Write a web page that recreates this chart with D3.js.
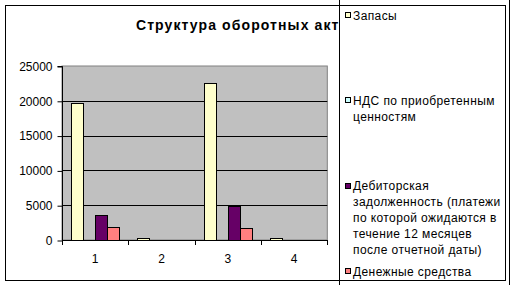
<!DOCTYPE html>
<html>
<head>
<meta charset="utf-8">
<script src="https://cdn.jsdelivr.net/npm/d3@7"></script>
<style>
  html, body { margin: 0; padding: 0; background: #fff; }
  svg { display: block; }
  text { font-family: "Liberation Sans", Arial, sans-serif; }
</style>
</head>
<body>
<svg id="chart" width="516" height="285"></svg>
<script>
// ---- data ----
const categories = ["1", "2", "3", "4"];
const seriesNames = [
  "Запасы",
  "НДС по приобретенным ценностям",
  "Дебиторская задолженность (платежи по которой ожидаются в течение 12 месяцев после отчетной даты)",
  "Денежные средства"
];
const legendLines = [
  ["Запасы"],
  ["НДС по приобретенным", "ценностям"],
  ["Дебиторская", "задолженность (платежи", "по которой ожидаются в", "течение 12 месяцев", "после отчетной даты)"],
  ["Денежные средства"]
];
const zapasy   = [19700, 250, 22500, 250];
const nds      = [0, 0, 0, 0];
const debitor  = [3600, 0, 4950, 0];
const dengi    = [1800, 0, 1700, 0];
const seriesValues = [zapasy, nds, debitor, dengi];
const seriesColors = ["#FFFFCC", "#CCFFFF", "#660066", "#FF8080"];
const yTicks = [0, 5000, 10000, 15000, 20000, 25000];
const titleText = "Структура оборотных активов";

// ---- layout ----
const svg = d3.select("#chart");
const plot = { left: 62, right: 327.3, top: 66, bottom: 240 };
const legend = { left: 339, right: 509, top: -5, bottom: 290 };

const x0 = d3.scaleBand().domain(categories).range([plot.left, plot.right]).paddingInner(0).paddingOuter(0);
const x1 = d3.scaleBand().domain(d3.range(seriesNames.length)).range([0, x0.bandwidth()]).paddingInner(0).paddingOuter(0.75);
const y = d3.scaleLinear().domain([0, 25000]).range([plot.bottom, plot.top]);

// plot area
svg.append("rect")
  .attr("x", plot.left).attr("y", plot.top)
  .attr("width", plot.right - plot.left).attr("height", plot.bottom - plot.top)
  .attr("fill", "#C0C0C0").attr("stroke", "#808080").attr("stroke-width", 1);

// gridlines
svg.append("g").selectAll("line")
  .data(yTicks.filter(t => t > 0 && t < 25000))
  .join("line")
  .attr("x1", plot.left).attr("x2", plot.right)
  .attr("y1", d => Math.round(y(d)) + 0.5).attr("y2", d => Math.round(y(d)) + 0.5)
  .attr("stroke", "#000").attr("stroke-width", 1);

// bars
const flat = [];
categories.forEach((c, ci) => {
  seriesValues.forEach((vals, si) => {
    flat.push({ c, si, v: vals[ci] });
  });
});
svg.append("g").selectAll("rect")
  .data(flat.filter(d => d.v > 0))
  .join("rect")
  .attr("x", d => Math.round(x0(d.c) + x1(d.si)) + 0.5)
  .attr("width", Math.round(x1.bandwidth()))
  .attr("y", d => Math.round(y(d.v)) + 0.5)
  .attr("height", d => Math.round(y(0)) - Math.round(y(d.v)))
  .attr("fill", d => seriesColors[d.si])
  .attr("stroke", "#000").attr("stroke-width", 1);

// y axis
const yAxis = d3.axisLeft(y).tickValues(yTicks).tickSize(5).tickPadding(5).tickFormat(d3.format("d"));
const gy = svg.append("g").attr("transform", `translate(${plot.left + 0.5},0.5)`).call(yAxis);
gy.select(".domain").attr("stroke", "#000").attr("d", `M-5,${y(25000)}H0V${y(0)}`);
gy.selectAll(".tick line").attr("stroke", "#000");
gy.selectAll(".tick text").attr("font-size", 12).attr("fill", "#000")
  .attr("font-family", "'Liberation Sans', Arial, sans-serif");

// x axis
const xTickPositions = categories.map(c => x0(c)).concat([plot.right]);
const gx = svg.append("g");
gx.append("line").attr("x1", plot.left).attr("x2", plot.right + 0.5)
  .attr("y1", plot.bottom + 0.5).attr("y2", plot.bottom + 0.5).attr("stroke", "#000");
gx.selectAll("line.tk").data(xTickPositions).join("line").attr("class", "tk")
  .attr("x1", d => Math.round(d) + 0.5).attr("x2", d => Math.round(d) + 0.5)
  .attr("y1", plot.bottom).attr("y2", plot.bottom + 5).attr("stroke", "#000");
gx.selectAll("text").data(categories).join("text")
  .attr("x", d => x0(d) + x0.bandwidth() / 2)
  .attr("y", plot.bottom + 23)
  .attr("text-anchor", "middle").attr("font-size", 12).text(d => d);

// title (clipped by the legend box)
svg.append("clipPath").attr("id", "titleClip")
  .append("rect").attr("x", 0).attr("y", 0).attr("width", legend.left).attr("height", 60);
svg.append("text")
  .attr("clip-path", "url(#titleClip)")
  .attr("x", 257).attr("y", 29.5)
  .attr("text-anchor", "middle")
  .attr("font-size", 14).attr("font-weight", "bold")
  .attr("letter-spacing", 1.1)
  .text(titleText);

// legend box
svg.append("rect")
  .attr("x", legend.left + 0.5).attr("y", legend.top)
  .attr("width", legend.right - legend.left).attr("height", legend.bottom - legend.top)
  .attr("fill", "#fff").attr("stroke", "#000");

const ly = d3.scalePoint().domain(d3.range(seriesNames.length)).range([15, 271]);
const lg = svg.append("g").selectAll("g").data(seriesNames.map((n, i) => i)).join("g");
lg.append("rect")
  .attr("x", 345.5).attr("y", d => Math.round(ly(d)) - 2.5)
  .attr("width", 5).attr("height", 5)
  .attr("fill", d => seriesColors[d]).attr("stroke", "#000");
lg.append("text")
  .attr("x", 353)
  .attr("y", d => ly(d) + 4.5)
  .attr("font-size", 12)
  .attr("letter-spacing", 0.4)
  .selectAll("tspan").data(d => legendLines[d]).join("tspan")
  .attr("x", 353).attr("dy", (d, i) => i === 0 ? 0 : 16).text(d => d);

// outer border
svg.append("rect")
  .attr("x", 5.5).attr("y", 5.5).attr("width", 500).attr("height", 275)
  .attr("fill", "none").attr("stroke", "#000");
</script>
</body>
</html>
